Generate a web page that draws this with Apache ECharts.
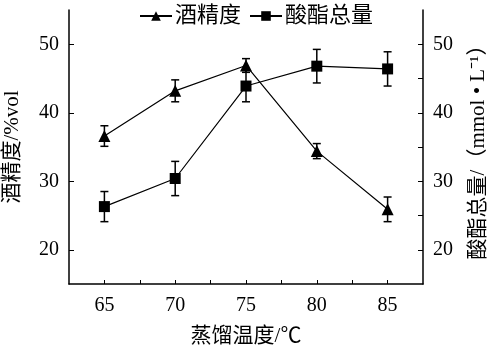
<!DOCTYPE html>
<html>
<head>
<meta charset="utf-8">
<script src="https://cdn.jsdelivr.net/npm/echarts@6/dist/echarts.min.js"></script>
<style>
  html, body { margin: 0; padding: 0; background: #fff; }
  #chart { width: 489px; height: 353px; }
</style>
</head>
<body>
<div id="chart"></div>
<script>
// 蒸馏温度
const temps = [65, 70, 75, 80, 85];
// 酒精度 (%vol) 及误差
const alcohol = [36.6, 43.2, 46.9, 34.4, 25.9];
const alcoholErr = [1.5, 1.6, 1.0, 1.1, 1.8];
// 酸酯总量 (mmol/L) 及误差
const ester = [26.3, 30.4, 43.9, 46.8, 46.4];
const esterErr = [2.2, 2.5, 2.3, 2.45, 2.5];

const xTicks = [65, 67.5, 70, 72.5, 75, 77.5, 80, 82.5, 85];
const xLabels = [65, 70, 75, 80, 85];
const yLabels = [20, 30, 40, 50];
const yRightTicks = [20, 25, 30, 35, 40, 45, 50];

const serif = '"Liberation Serif", "Noto Sans CJK SC", serif';

const chart = echarts.init(document.getElementById('chart'));

function errorBars(vals, errs) {
    return temps.map((t, i) => [t, vals[i] - errs[i], vals[i] + errs[i]]);
}

function renderErr(params, api) {
    const x = api.value(0);
    const lo = api.coord([x, api.value(1)]);
    const hi = api.coord([x, api.value(2)]);
    const w = 4;
    const style = { stroke: '#000', lineWidth: 1.5 };
    return {
        type: 'group',
        children: [
            { type: 'line', shape: { x1: lo[0], y1: lo[1], x2: hi[0], y2: hi[1] }, style },
            { type: 'line', shape: { x1: lo[0] - w, y1: lo[1], x2: lo[0] + w, y2: lo[1] }, style },
            { type: 'line', shape: { x1: hi[0] - w, y1: hi[1], x2: hi[0] + w, y2: hi[1] }, style }
        ]
    };
}

const option = {
    animation: false,
    textStyle: { fontFamily: serif, color: '#000' },
    legend: {
        top: 0,
        left: 134,
        itemWidth: 32,
        itemHeight: 12,
        itemGap: 8,
        data: ['酒精度', '酸酯总量'],
        textStyle: { fontSize: 22, color: '#000', fontFamily: serif, padding: [0, 0, 0, -2] }
    },
    grid: { left: 69, right: 66, top: 10, bottom: 69, outerBoundsMode: 'none' },
    xAxis: {
        type: 'value',
        min: 62.5,
        max: 87.5,
        name: '蒸馏温度/℃',
        nameLocation: 'middle',
        nameGap: 42,
        nameTextStyle: { fontSize: 21, color: '#000', fontFamily: serif },
        axisLine: { lineStyle: { color: '#000', width: 1.5 } },
        axisTick: { inside: true, length: 4, customValues: xTicks, lineStyle: { color: '#000' } },
        axisLabel: { customValues: xLabels, fontSize: 20, color: '#000', margin: 12, fontFamily: serif },
        splitLine: { show: false }
    },
    yAxis: [
        {
            type: 'value',
            min: 15,
            max: 55,
            name: '酒精度/%vol',
            nameLocation: 'middle',
            nameRotate: 90,
            nameGap: 46,
            nameTextStyle: { fontSize: 21, color: '#000', fontFamily: serif },
            axisLine: { show: true, lineStyle: { color: '#000', width: 1.5 } },
            axisTick: { inside: true, length: 5, customValues: yLabels, lineStyle: { color: '#000' } },
            axisLabel: { customValues: yLabels, fontSize: 20, color: '#000', margin: 10, fontFamily: serif },
            splitLine: { show: false }
        },
        {
            type: 'value',
            min: 15,
            max: 55,
            position: 'right',
            name: '酸酯总量/（mmol • L⁻¹）',
            nameLocation: 'middle',
            nameRotate: 90,
            nameGap: 45,
            nameTextStyle: { fontSize: 21, color: '#000', fontFamily: serif },
            axisLine: { show: true, lineStyle: { color: '#000', width: 1.5 } },
            axisTick: { inside: true, length: 5, customValues: yRightTicks, lineStyle: { color: '#000' } },
            axisLabel: { customValues: yLabels, fontSize: 20, color: '#000', margin: 10, fontFamily: serif },
            splitLine: { show: false }
        }
    ],
    series: [
        {
            name: '酒精度',
            type: 'line',
            yAxisIndex: 0,
            symbol: 'triangle',
            symbolSize: 12,
            itemStyle: { color: '#000' },
            lineStyle: { color: '#000', width: 1.2 },
            data: temps.map((t, i) => [t, alcohol[i]]),
            z: 3
        },
        {
            name: '酸酯总量',
            type: 'line',
            yAxisIndex: 1,
            symbol: 'rect',
            symbolSize: 11,
            itemStyle: { color: '#000' },
            lineStyle: { color: '#000', width: 1.2 },
            data: temps.map((t, i) => [t, ester[i]]),
            z: 3
        },
        {
            type: 'custom',
            yAxisIndex: 0,
            renderItem: renderErr,
            encode: { x: 0, y: [1, 2] },
            data: errorBars(alcohol, alcoholErr),
            z: 2
        },
        {
            type: 'custom',
            yAxisIndex: 1,
            renderItem: renderErr,
            encode: { x: 0, y: [1, 2] },
            data: errorBars(ester, esterErr),
            z: 2
        }
    ]
};

chart.setOption(option);
</script>
</body>
</html>
